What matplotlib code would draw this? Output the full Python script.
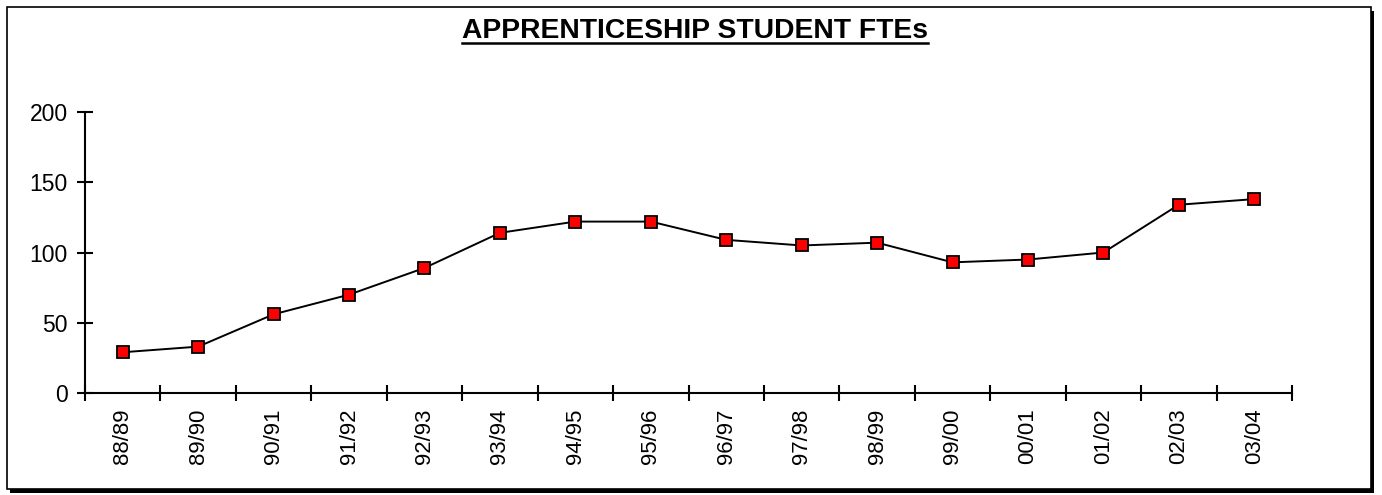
import matplotlib.pyplot as plt
from matplotlib.patches import Rectangle
from matplotlib.lines import Line2D
import numpy as np

plt.rcParams['font.family'] = ['Liberation Sans', 'DejaVu Sans']

# data
years = ['88/89', '89/90', '90/91', '91/92', '92/93', '93/94', '94/95', '95/96',
         '96/97', '97/98', '98/99', '99/00', '00/01', '01/02', '02/03', '03/04']
ftes = [29, 33, 56, 70, 89, 114, 122, 122, 109, 105, 107, 93, 95, 100, 134, 138]
title = 'APPRENTICESHIP STUDENT FTEs'

fig = plt.figure(figsize=(13.82, 4.95), dpi=100)
ax = fig.add_axes([85 / 1382, 102 / 495, 1207 / 1382, 281 / 495])

x = np.arange(len(years))
ax.plot(x, ftes, color='black', linewidth=1.4, marker='s', markersize=9,
        markerfacecolor='#ff0000', markeredgecolor='black', markeredgewidth=1.3,
        clip_on=False, zorder=3)

# limits
ax.set_xlim(-0.5, len(years) - 0.5)
ax.set_ylim(0, 200)

# axes look
for side in ['top', 'right']:
    ax.spines[side].set_visible(False)
for side in ['left', 'bottom']:
    ax.spines[side].set_linewidth(1.5)
ax.set_yticks([0, 50, 100, 150, 200])
ax.set_xticks(np.arange(len(years) + 1) - 0.5)
ax.set_xticklabels([])
ax.set_xticks(x, minor=True)
ax.set_xticklabels(years, minor=True, rotation=90)
ax.tick_params(axis='both', which='major', direction='inout', length=11, width=1.5)
ax.tick_params(axis='y', labelsize=16.5, pad=7)
ax.tick_params(axis='x', which='minor', length=0, labelsize=16, pad=11)

# title with underline
t = fig.text(695 / 1382, 1 - 31 / 495, title, ha='center', va='center',
             fontsize=20.3, fontweight='bold')
fig.canvas.draw()
bb = t.get_window_extent()
uy = (495 - 43) / 495
fig.add_artist(Line2D([bb.x0 / 1382, bb.x1 / 1382], [uy, uy],
                      color='black', linewidth=1.8))

# frame with shadow
fig.add_artist(Rectangle((10 / 1382, 2 / 495), 1364 / 1382, 482 / 495,
                         transform=fig.transFigure, facecolor='black',
                         edgecolor='none', zorder=-2))
fig.add_artist(Rectangle((6.5 / 1382, 6 / 495), 1364 / 1382, 482 / 495,
                         transform=fig.transFigure, facecolor='white',
                         edgecolor='black', linewidth=1.2, zorder=-1))

fig.savefig('out.png', dpi=100)
